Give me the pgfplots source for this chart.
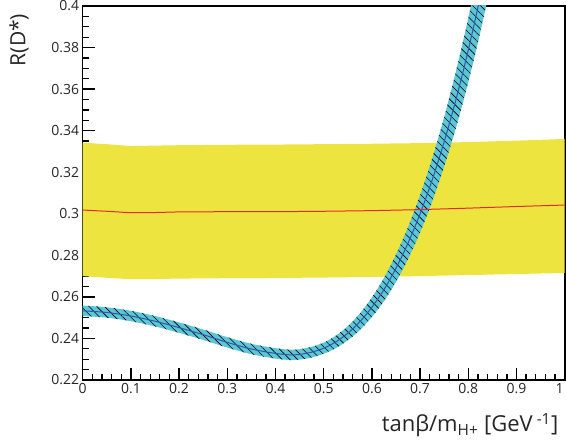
\documentclass[border=0pt]{standalone}
\usepackage{pgfplots}
\pgfplotsset{compat=1.18}
\usepackage{pgfplotstable}
\usepgfplotslibrary{fillbetween}
\usetikzlibrary{patterns.meta}
\usepackage{fontspec}
\setmainfont{Open Sans}
\definecolor{bandyellow}{RGB}{237,228,63}
\definecolor{bandcyan}{RGB}{92,198,214}
\definecolor{bandblue}{RGB}{40,90,175}
\definecolor{smred}{RGB}{232,40,40}

\pgfplotstableread{
x c h
0.00 0.2533 0.0025
0.05 0.2525 0.0025
0.10 0.2508 0.0025
0.15 0.2483 0.0025
0.20 0.2452 0.0025
0.25 0.2418 0.0025
0.30 0.2381 0.0025
0.35 0.2349 0.0025
0.40 0.2328 0.0025
0.43 0.2321 0.0025
0.45 0.2323 0.0025
0.475 0.2334 0.0026
0.50 0.2353 0.0027
0.525 0.2383 0.0030
0.55 0.2425 0.0034
0.575 0.2480 0.0040
0.60 0.2550 0.0047
0.625 0.2635 0.0056
0.65 0.2738 0.0066
0.675 0.2859 0.0077
0.70 0.3000 0.0090
0.725 0.3162 0.0104
0.75 0.3347 0.0119
0.775 0.3555 0.0137
0.80 0.3788 0.0155
0.825 0.4048 0.0174
0.85 0.4335 0.0194
}\hpband

\pgfplotstableread{
x lo mid hi
0.00 0.2700 0.3018 0.3342
0.05 0.2692 0.3012 0.3335
0.10 0.2685 0.3005 0.3326
0.15 0.2686 0.3006 0.3328
0.20 0.2688 0.3009 0.3330
0.30 0.2690 0.3010 0.3332
0.40 0.2691 0.3010 0.3333
0.50 0.2693 0.3012 0.3335
0.60 0.2696 0.3015 0.3337
0.70 0.2700 0.3020 0.3340
0.80 0.2705 0.3027 0.3345
0.90 0.2710 0.3035 0.3352
1.00 0.2715 0.3042 0.3360
}\smband

\begin{document}
\begin{tikzpicture}
\begin{axis}[
  at={(0,0)}, anchor=south west,
  scale only axis, width=482pt, height=374pt,
  xmin=0, xmax=1, ymin=0.22, ymax=0.4,
  axis line style={line width=1.6pt, black},
  xtick={0,0.1,0.2,0.3,0.4,0.5,0.6,0.7,0.8,0.9,1},
  xticklabels={0,0.1,0.2,0.3,0.4,0.5,0.6,0.7,0.8,0.9,\makebox[0pt][r]{1\hspace{1pt}}},
  ytick={0.22,0.24,0.26,0.28,0.3,0.32,0.34,0.36,0.38,0.4},
  minor x tick num=4, minor y tick num=3,
  tick align=inside, xtick pos=bottom, ytick pos=left,
  major tick length=12pt, minor tick length=6pt,
  every tick/.style={black, line width=1.3pt},
  tick label style={font=\fontsize{14}{16}\selectfont, text=black!85},
  /pgf/number format/assume math mode=true,
  scaled ticks=false,
  xlabel={tanβ/m\textsubscript{H+} [GeV\textsuperscript{ -1}]},
  xlabel style={at={(axis description cs:0.994,0)}, anchor=base east, yshift=-51.7pt, font=\fontsize{22}{24}\selectfont, text=black!85},
  ylabel={R(D*)},
  ylabel style={at={(axis description cs:-0.1322,0.909)}, anchor=center, font=\fontsize{21}{24}\selectfont, text=black!85},
]
\addplot[name path=ylo, draw=none] table[x=x,y=lo]{\smband};
\addplot[name path=yhi, draw=none] table[x=x,y=hi]{\smband};
\addplot[fill=bandyellow, draw=none] fill between[of=ylo and yhi];

\addplot[name path=blo, draw=none, smooth] table[x=x, y expr=\thisrow{c}-\thisrow{h}]{\hpband};
\addplot[name path=bhi, draw=none, smooth] table[x=x, y expr=\thisrow{c}+\thisrow{h}]{\hpband};
\addplot[fill=bandcyan, draw=none] fill between[of=blo and bhi];
\addplot[pattern={Lines[angle=-45,distance=5.5pt,line width=0.6pt]}, pattern color=black, draw=none] fill between[of=blo and bhi];
\addplot[bandblue, line width=1pt, smooth] table[x=x,y=c]{\hpband};

\addplot[smred, line width=1pt] table[x=x,y=mid]{\smband};
\end{axis}
\pgfresetboundingbox
\path (-82.7pt,-63pt) rectangle (483.3pt,380pt);
\end{tikzpicture}
\end{document}
